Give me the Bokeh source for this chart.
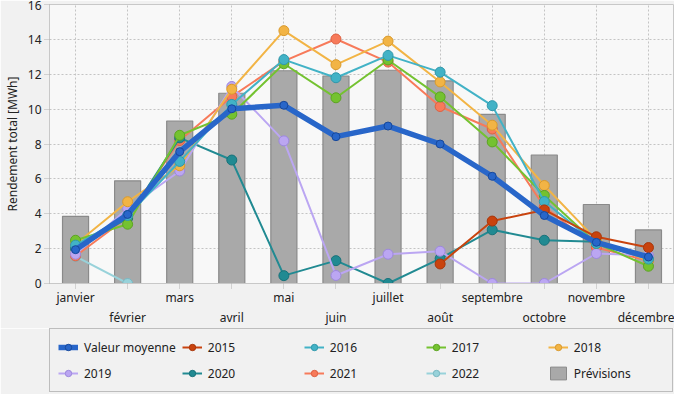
from bokeh.plotting import figure
from bokeh.layouts import column
from bokeh.models import Legend, LegendItem, FixedTicker, ColumnDataSource
from bokeh.embed import file_html
from bokeh.resources import INLINE

nan = float("nan")
months = ["janvier", "février", "mars", "avril", "mai", "juin", "juillet",
          "août", "septembre", "octobre", "novembre", "décembre"]
xs = list(range(1, 13))

previsions = [3.85, 5.89, 9.32, 10.91, 12.2, 11.9, 12.23, 11.62, 9.7, 7.37, 4.53, 3.07]
moyenne = [1.94, 3.96, 7.56, 10.02, 10.22, 8.42, 9.03, 8.0, 6.15, 3.9, 2.36, 1.52]
y2015 = [nan, nan, nan, nan, nan, nan, nan, 1.12, 3.58, 4.22, 2.68, 2.06]
y2016 = [2.2, 3.9, 7.0, 10.27, 12.84, 11.8, 13.08, 12.12, 10.2, 4.7, 2.3, 1.4]
y2017 = [2.48, 3.4, 8.5, 9.71, 12.6, 10.65, 12.82, 10.7, 8.12, 5.05, 2.3, 0.99]
y2018 = [2.25, 4.69, 6.75, 11.14, 14.5, 12.55, 13.9, 11.56, 9.08, 5.62, 2.5, 1.3]
y2019 = [1.68, 4.3, 6.45, 11.3, 8.18, 0.46, 1.68, 1.85, 0.0, 0.0, 1.72, 1.6]
y2020 = [2.0, 3.75, 8.35, 7.08, 0.45, 1.31, 0.0, 1.43, 3.08, 2.48, 2.4, 1.37]
y2021 = [1.58, 3.8, 8.2, 10.72, 12.75, 14.02, 12.7, 10.15, 8.86, 4.4, 2.06, 1.3]
y2022 = [1.55, 0.0, nan, nan, nan, nan, nan, nan, nan, nan, nan, nan]
y_ticks = [0, 2, 4, 6, 8, 10, 12, 14, 16]

series = [
    ("2015", y2015, "#c9430e", "#a8360a"),
    ("2016", y2016, "#42b2c6", "#2f98ab"),
    ("2017", y2017, "#74c230", "#5ca421"),
    ("2018", y2018, "#f2b445", "#d99a2d"),
    ("2019", y2019, "#bba6f2", "#9d88dc"),
    ("2020", y2020, "#218a92", "#17727a"),
    ("2021", y2021, "#f77a5a", "#de6042"),
    ("2022", y2022, "#98d2da", "#7ab8c2"),
]
MOY_COL, MOY_DARK, MOY_EDGE = "#2866c9", "#1f58b8", "#17489a"
BAR_FILL, BAR_LINE = "#a9a9a9", "#8a8a8a"
BG = "#f1f1f1"
FONT = "Noto Sans"

p = figure(width=674, height=328, x_range=(0.5, 12.5), y_range=(0, 16),
           output_backend="svg", toolbar_location=None,
           min_border_left=36, min_border_right=0, min_border_top=4,
           min_border_bottom=0)
p.background_fill_color = "#f8f8f8"
p.border_fill_color = BG
p.outline_line_color = "#c8c8c8"

# legend strip (separate figure below the chart, no axes)
q = figure(width=674, height=66, x_range=(0.5, 12.5), y_range=(0, 16),
           x_axis_type=None, y_axis_type=None,
           output_backend="svg", toolbar_location=None,
           min_border_left=0, min_border_right=0, min_border_top=0,
           min_border_bottom=0)
q.grid.visible = False
q.outline_line_color = None
q.background_fill_color = BG
q.border_fill_color = BG

bar_src = ColumnDataSource(dict(x=xs, top=previsions))
p.vbar(x="x", top="top", source=bar_src, width=0.5, bottom=0,
       fill_color=BAR_FILL, line_color=BAR_LINE, line_width=1.2)
keys = {"Prévisions": [q.vbar(x="x", top="top", source=bar_src, width=0.5,
                              fill_color=BAR_FILL, line_color=BAR_LINE,
                              visible=False)]}

def draw(fig, src, col, dark, lw, size, vis=True):
    ln = fig.line("x", "y", source=src, line_color=col, line_width=lw, visible=vis)
    sc = fig.scatter("x", "y", source=src, size=size, fill_color=col,
                     line_color=dark, line_width=1, visible=vis)
    return [ln, sc]

for name, vals, col, dark in reversed(series):
    src = ColumnDataSource(dict(x=xs, y=vals))
    draw(p, src, col, dark, 2, 10)
    keys[name] = draw(q, src, col, dark, 2, 8, vis=False)

msrc = ColumnDataSource(dict(x=xs, y=moyenne))
draw(p, msrc, MOY_COL, MOY_EDGE, 5.5, 8)
keys["Valeur moyenne"] = draw(q, msrc, MOY_COL, MOY_EDGE, 5.5, 8, vis=False)

# axes
p.xaxis.ticker = FixedTicker(ticks=xs)
p.xaxis.major_label_overrides = {
    i + 1: (m if i % 2 == 0 else "\n" + m) for i, m in enumerate(months)
}
p.yaxis.ticker = FixedTicker(ticks=y_ticks)
for ax in (p.xaxis, p.yaxis):
    ax.axis_line_color = "#c8c8c8"
    ax.major_tick_line_color = "#b0b0b0"
    ax.major_tick_line_dash = "1 1"
    ax.minor_tick_line_color = None
    ax.major_tick_out = 5
    ax.major_tick_in = 0
    ax.major_label_text_font = FONT
    ax.major_label_text_font_size = "12px"
    ax.major_label_text_color = "#222222"
p.xaxis.major_label_standoff = 0
p.xaxis.major_label_text_line_height = 1.2
p.yaxis.major_label_standoff = 3
p.yaxis.axis_label = "Rendement total [MWh]"
p.yaxis.axis_label_text_font = FONT
p.yaxis.axis_label_text_font_size = "12px"
p.yaxis.axis_label_text_font_style = "normal"
p.yaxis.axis_label_text_color = "#222222"
p.yaxis.axis_label_standoff = 4

p.xgrid.grid_line_color = "#c4c4c4"
p.xgrid.grid_line_dash = "2 2"
p.ygrid.grid_line_color = "#c4c4c4"
p.ygrid.grid_line_dash = "2 2"

order = ["Valeur moyenne", "2015", "2016", "2017", "2018",
         "2019", "2020", "2021", "2022", "Prévisions"]
legend = Legend(items=[LegendItem(label=k, renderers=keys[k]) for k in order],
                location=(0, 2), orientation="horizontal", ncols=5,
                label_text_font=FONT, label_text_font_size="12px",
                label_text_color="#222222", glyph_width=20, glyph_height=16,
                label_standoff=6, label_width=90, spacing=6, padding=8,
                margin=0, border_line_color="#8a8a8a", border_line_width=1,
                background_fill_color=BG, background_fill_alpha=1.0,
                label_height=20)
q.add_layout(legend, "center")

open("out.html", "w").write(file_html(column(p, q, spacing=0), INLINE))
